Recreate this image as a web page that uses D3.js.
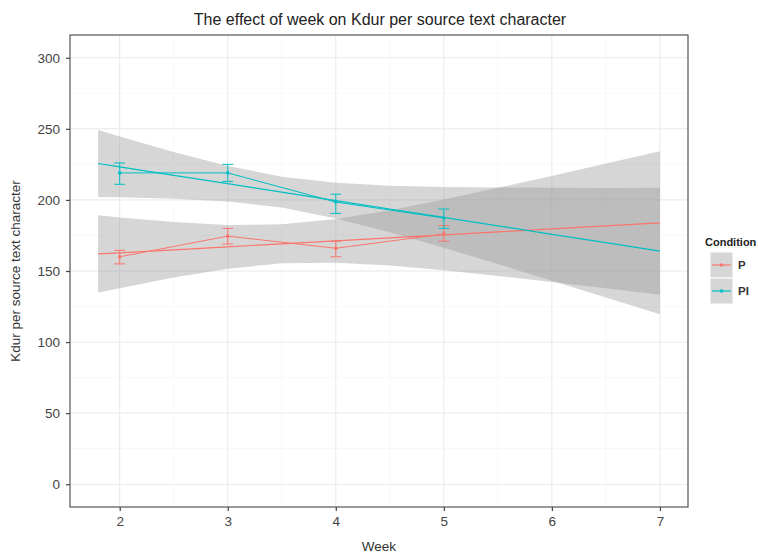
<!DOCTYPE html>
<html lang="en">
<head>
  <meta charset="UTF-8">
  <title>Kdur per source text character</title>
  <style>
    body { margin: 0; background: #fff; }
    svg { font-family: "Liberation Sans", Arial, sans-serif; }
  </style>
</head>
<body>
  <svg></svg>
  <script src="https://d3js.org/d3.v7.min.js"></script>
  <script>
    // observed means per week, with error bars
    var weeks = [2, 3, 4, 5];
    var pMean = [160, 174.5, 166, 176];
    var pLow = [155, 169, 160, 171];
    var pHigh = [164.5, 180, 171, 182];
    var piMean = [219, 219, 198.5, 187.3];
    var piLow = [211, 213, 190.5, 180];
    var piHigh = [226, 225, 204, 193.6];

    // linear fit with confidence band
    var fitWeeks = [1.8, 2, 2.5, 3, 3.5, 4, 4.5, 5, 5.5, 6, 6.5, 7];
    var pFit = [162, 162.8, 164.9, 167, 169.1, 171.2, 173.3, 175.4, 177.5, 179.6, 181.7, 183.8];
    var pFitLow = [134.7, 137.9, 145.4, 151.6, 155.4, 155.8, 153.8, 150.5, 146.5, 142.3, 137.8, 133.3];
    var pFitHigh = [189.3, 187.7, 184.4, 182.4, 182.8, 186.6, 192.8, 200.3, 208.5, 216.9, 225.6, 234.3];
    var piFit = [225.6, 223.2, 217.3, 211.4, 205.5, 199.5, 193.6, 187.7, 181.8, 175.8, 169.9, 164];
    var piFitLow = [202, 201.8, 200.9, 198.9, 194.7, 187, 177.2, 166.3, 154.9, 143.1, 131.4, 119.5];
    var piFitHigh = [249.2, 244.6, 233.7, 223.9, 216.3, 212, 210, 209.1, 208.7, 208.5, 208.4, 208.5];

    var conditions = ["P", "PI"];
    var colors = ["#F8766D", "#00BFC4"];
    var xTicks = [2, 3, 4, 5, 6, 7];
    var yTicks = [0, 50, 100, 150, 200, 250, 300];

    var width = 758, height = 555;
    var pLeft = 70, pRight = 688, pTop = 35, pBottom = 507;

    var x = d3.scaleLinear().domain([1.54, 7.26]).range([pLeft, pRight]);
    var y = d3.scaleLinear().domain([-16, 316]).range([pBottom, pTop]);

    var svg = d3.select("svg").attr("width", width).attr("height", height);

    // grid
    var minorX = [2.5, 3.5, 4.5, 5.5, 6.5];
    var minorY = [25, 75, 125, 175, 225, 275];
    svg.append("g").selectAll("line").data(minorX).enter().append("line")
        .attr("x1", d => x(d)).attr("x2", d => x(d)).attr("y1", pTop).attr("y2", pBottom)
        .attr("stroke", "#f3f3f3").attr("stroke-width", 0.6);
    svg.append("g").selectAll("line").data(minorY).enter().append("line")
        .attr("y1", d => y(d)).attr("y2", d => y(d)).attr("x1", pLeft).attr("x2", pRight)
        .attr("stroke", "#f3f3f3").attr("stroke-width", 0.6);
    svg.append("g").selectAll("line").data(xTicks).enter().append("line")
        .attr("x1", d => x(d)).attr("x2", d => x(d)).attr("y1", pTop).attr("y2", pBottom)
        .attr("stroke", "#e8e8e8").attr("stroke-width", 1);
    svg.append("g").selectAll("line").data(yTicks).enter().append("line")
        .attr("y1", d => y(d)).attr("y2", d => y(d)).attr("x1", pLeft).attr("x2", pRight)
        .attr("stroke", "#e8e8e8").attr("stroke-width", 1);

    var series = [
      {name: "P", mean: pMean, low: pLow, high: pHigh, fit: pFit, fitLow: pFitLow, fitHigh: pFitHigh},
      {name: "PI", mean: piMean, low: piLow, high: piHigh, fit: piFit, fitLow: piFitLow, fitHigh: piFitHigh}
    ];
    var color = d3.scaleOrdinal().domain(conditions).range(colors);

    var area = d3.area()
        .x((d, i) => x(fitWeeks[i]))
        .y0(d => y(d[0]))
        .y1(d => y(d[1]));
    var fitLine = d3.line().x((d, i) => x(fitWeeks[i])).y(d => y(d));
    var obsLine = d3.line().x((d, i) => x(weeks[i])).y(d => y(d));

    series.forEach(function(s) {
      svg.append("path")
          .datum(s.fitLow.map((v, i) => [v, s.fitHigh[i]]))
          .attr("d", area)
          .attr("fill", "#999999")
          .attr("fill-opacity", 0.4);
    });

    series.forEach(function(s) {
      var c = color(s.name);
      svg.append("path").datum(s.fit).attr("d", fitLine)
          .attr("fill", "none").attr("stroke", c).attr("stroke-width", 1.2);
      svg.append("path").datum(s.mean).attr("d", obsLine)
          .attr("fill", "none").attr("stroke", c).attr("stroke-width", 1);

      var eb = svg.append("g").selectAll("g").data(weeks).enter().append("g")
          .attr("stroke", c).attr("stroke-width", 1);
      eb.append("line").attr("x1", d => x(d)).attr("x2", d => x(d))
          .attr("y1", (d, i) => y(s.low[i])).attr("y2", (d, i) => y(s.high[i]));
      eb.append("line").attr("x1", d => x(d - 0.05)).attr("x2", d => x(d + 0.05))
          .attr("y1", (d, i) => y(s.low[i])).attr("y2", (d, i) => y(s.low[i]));
      eb.append("line").attr("x1", d => x(d - 0.05)).attr("x2", d => x(d + 0.05))
          .attr("y1", (d, i) => y(s.high[i])).attr("y2", (d, i) => y(s.high[i]));

      svg.append("g").selectAll("circle").data(weeks).enter().append("circle")
          .attr("cx", d => x(d)).attr("cy", (d, i) => y(s.mean[i]))
          .attr("r", 1.8).attr("fill", c);
    });

    // panel border
    svg.append("rect")
        .attr("x", pLeft).attr("y", pTop)
        .attr("width", pRight - pLeft).attr("height", pBottom - pTop)
        .attr("fill", "none").attr("stroke", "#555").attr("stroke-width", 1.2);

    // axes
    var xAxis = svg.append("g").attr("transform", "translate(0," + pBottom + ")")
        .call(d3.axisBottom(x).tickValues(xTicks).tickFormat(d3.format("d")).tickSize(4).tickPadding(5));
    var yAxis = svg.append("g").attr("transform", "translate(" + pLeft + ",0)")
        .call(d3.axisLeft(y).tickValues(yTicks).tickFormat(d3.format("d")).tickSize(4).tickPadding(6));
    [xAxis, yAxis].forEach(function(a) {
      a.select(".domain").remove();
      a.selectAll(".tick line").attr("stroke", "#444").attr("stroke-width", 1.2);
      a.selectAll("text").attr("fill", "#444").style("font-size", "13.5px")
          .style("font-family", "'Liberation Sans', Arial, sans-serif");
    });

    // titles
    svg.append("text")
        .attr("x", 380).attr("y", 25)
        .attr("text-anchor", "middle")
        .style("font-size", "16px").attr("fill", "#222")
        .text("The effect of week on Kdur per source text character");
    svg.append("text")
        .attr("x", (pLeft + pRight) / 2).attr("y", 551)
        .attr("text-anchor", "middle")
        .style("font-size", "13.5px").attr("fill", "#333")
        .text("Week");
    svg.append("text")
        .attr("transform", "translate(20," + (pTop + pBottom) / 2 + ") rotate(-90)")
        .attr("text-anchor", "middle")
        .style("font-size", "13.5px").attr("fill", "#333")
        .text("Kdur per source text character");

    // legend
    var legend = svg.append("g").attr("transform", "translate(705,0)");
    legend.append("text").attr("x", 0).attr("y", 246)
        .style("font-size", "11px").style("font-weight", "bold").attr("fill", "#222")
        .text("Condition");
    var keys = legend.selectAll("g.key").data(conditions).enter().append("g")
        .attr("class", "key")
        .attr("transform", (d, i) => "translate(5," + (252 + i * 26) + ")");
    keys.append("rect").attr("width", 23).attr("height", 26)
        .attr("fill", "#d6d6d6").attr("stroke", "#fff").attr("stroke-width", 1);
    keys.append("line").attr("x1", 2).attr("x2", 21).attr("y1", 13).attr("y2", 13)
        .attr("stroke", d => color(d)).attr("stroke-width", 1.2);
    keys.append("circle").attr("cx", 11.5).attr("cy", 13).attr("r", 1.8)
        .attr("fill", d => color(d));
    keys.append("text").attr("x", 28).attr("y", 17)
        .style("font-size", "11.5px").style("font-weight", "bold").attr("fill", "#333")
        .text(d => d);
  </script>
</body>
</html>
